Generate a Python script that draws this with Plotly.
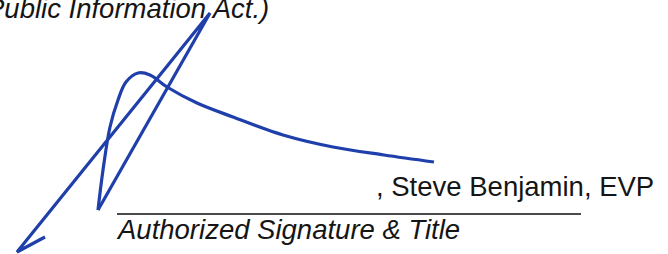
import plotly.graph_objects as go

# Signature strokes (image pixel coordinates, y grows downward)
stroke_x = [45, 17, 210, 98]
stroke_y = [237, 252, 13, 210]

loop_x = [98, 103, 110, 118, 126, 138, 150, 167, 197, 233, 283, 333, 384, 434]
loop_y = [210, 170, 127, 100, 82, 73, 75, 87, 103, 117, 135, 147, 155, 162]

rule_x = [117, 581]
rule_y = [214, 214]

header_text = "Public Information Act.)"
name_text = ", Steve Benjamin, EVP"
caption_text = "Authorized Signature & Title"

BLUE = "#1f3faa"
INK = "#151515"

fig = go.Figure()
fig.add_trace(go.Scatter(x=rule_x, y=rule_y, mode="lines",
                         line=dict(color="#4a4a4a", width=2), hoverinfo="skip"))
fig.add_trace(go.Scatter(x=stroke_x, y=stroke_y, mode="lines",
                         line=dict(color=BLUE, width=3.2), hoverinfo="skip"))
fig.add_trace(go.Scatter(x=loop_x, y=loop_y, mode="lines",
                         line=dict(color=BLUE, width=3.2, shape="spline", smoothing=1.0),
                         hoverinfo="skip"))

fig.add_annotation(x=0, y=25, xshift=-15, text=header_text, xref="x", yref="y",
                   xanchor="left", yanchor="bottom", showarrow=False, borderpad=0,
                   font=dict(family="Liberation Sans, Arial", size=27.5, color=INK, style="italic"))
fig.add_annotation(x=375, y=202.5, text=name_text, xref="x", yref="y",
                   xanchor="left", yanchor="bottom", showarrow=False, borderpad=0,
                   font=dict(family="Liberation Sans, Arial", size=27.5, color=INK))
fig.add_annotation(x=115, y=245.5, text=caption_text, xref="x", yref="y",
                   xanchor="left", yanchor="bottom", showarrow=False, borderpad=0,
                   font=dict(family="Liberation Sans, Arial", size=27.5, color=INK, style="italic"))

fig.update_layout(width=668, height=254, margin=dict(l=0, r=0, t=0, b=0),
                  paper_bgcolor="white", plot_bgcolor="white", showlegend=False)
fig.update_xaxes(range=[0, 668], visible=False, fixedrange=True)
fig.update_yaxes(range=[254, 0], visible=False, fixedrange=True)

fig.write_html("out.html", config={"displayModeBar": False},
               post_script="document.body.style.margin='0';document.body.style.padding='0';")
